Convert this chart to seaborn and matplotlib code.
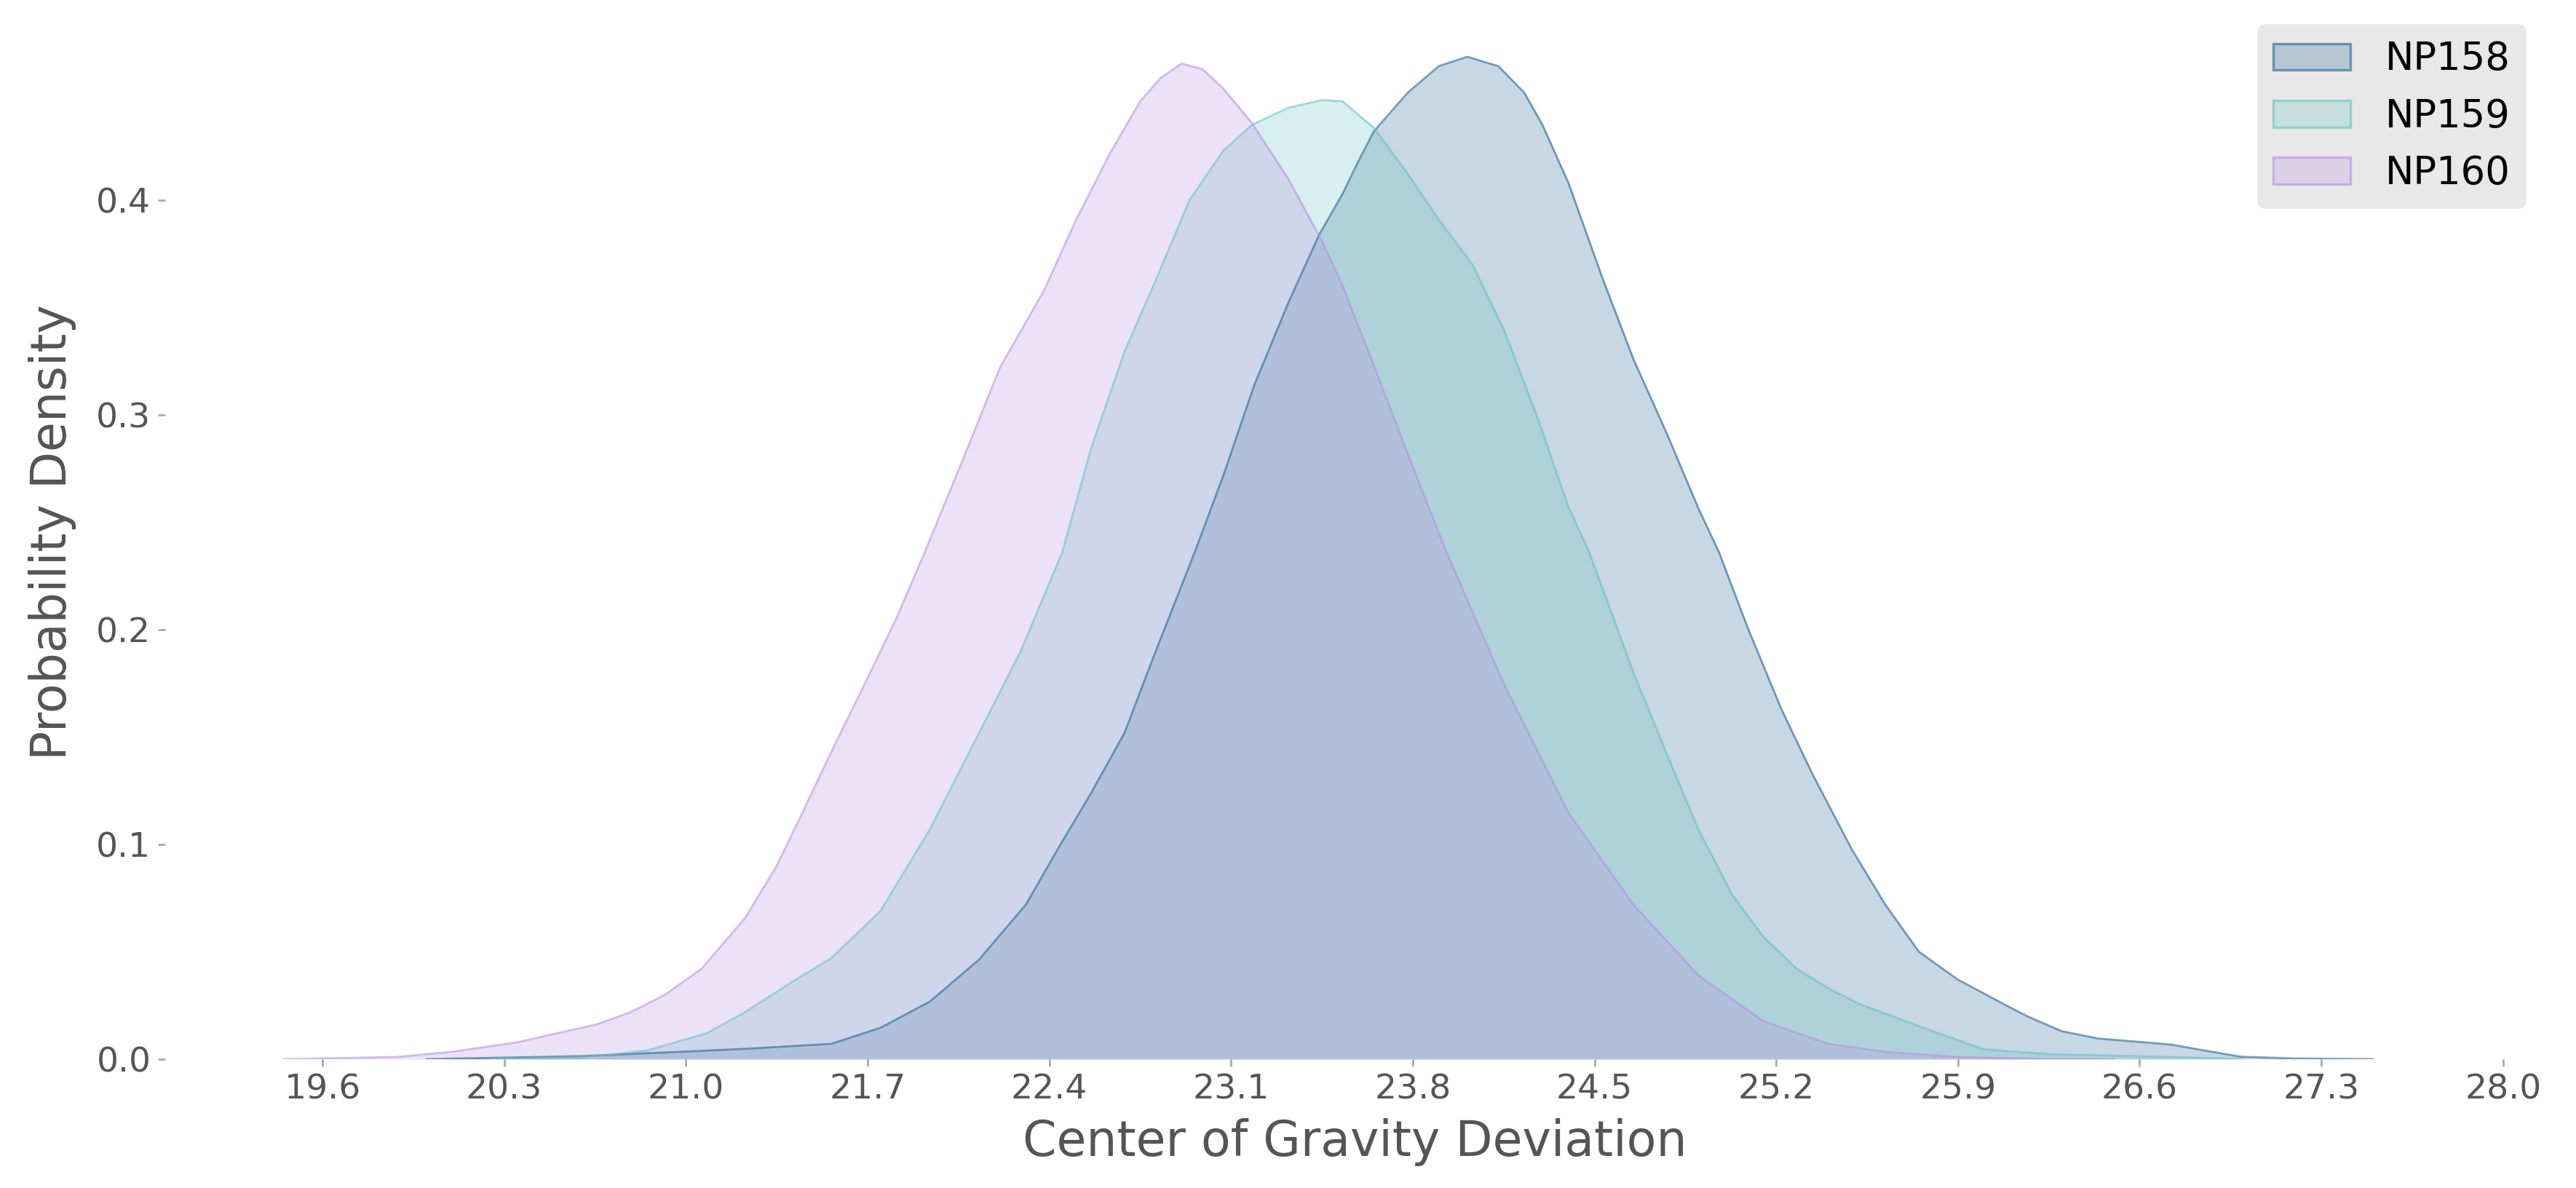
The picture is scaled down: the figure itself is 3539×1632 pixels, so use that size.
import matplotlib
matplotlib.use("Agg")
import matplotlib.pyplot as plt
from matplotlib.patches import Patch
from matplotlib.colors import to_rgba
import numpy as np
import pandas as pd
import seaborn as sns

# Density curves (x = deviation, y = density)
np158_x = [20.0, 20.6, 20.98, 21.23, 21.56, 21.75, 21.94, 22.13, 22.31, 22.44,
           22.56, 22.69, 22.81, 22.96, 23.07, 23.19, 23.32, 23.44, 23.53, 23.59,
           23.65, 23.78, 23.90, 24.01, 24.13, 24.23, 24.30, 24.40, 24.53, 24.65,
           24.78, 24.90, 24.98, 25.09, 25.22, 25.34, 25.49, 25.62, 25.75, 25.90,
           26.08, 26.17, 26.30, 26.44, 26.72, 26.85, 26.99, 27.2, 27.5]
np158_y = [0.0, 0.0014, 0.0034, 0.0048, 0.0071, 0.0146, 0.0268, 0.0464, 0.072, 0.0993,
           0.1237, 0.152, 0.190, 0.236, 0.2716, 0.314, 0.352, 0.384, 0.403, 0.418,
           0.432, 0.450, 0.4624, 0.4668, 0.4624, 0.450, 0.435, 0.408, 0.364, 0.326,
           0.291, 0.2566, 0.236, 0.201, 0.163, 0.1327, 0.098, 0.072, 0.050, 0.037,
           0.0254, 0.0198, 0.013, 0.0096, 0.0068, 0.004, 0.0011, 0.0003, 0.0]

np159_x = [20.25, 20.6, 20.85, 21.08, 21.23, 21.41, 21.56, 21.75, 21.94, 22.13,
           22.29, 22.45, 22.56, 22.69, 22.81, 22.94, 23.07, 23.18, 23.32, 23.45,
           23.53, 23.65, 23.78, 23.90, 24.03, 24.15, 24.28, 24.40, 24.48, 24.65,
           24.78, 24.90, 25.03, 25.15, 25.28, 25.40, 25.52, 25.75, 26.0, 26.25,
           26.72, 27.0]
np159_y = [0.0, 0.0008, 0.004, 0.012, 0.022, 0.036, 0.047, 0.069, 0.107, 0.152,
           0.190, 0.236, 0.284, 0.3295, 0.3627, 0.400, 0.423, 0.435, 0.443, 0.4466,
           0.446, 0.4337, 0.4124, 0.391, 0.370, 0.340, 0.299, 0.257, 0.236, 0.180,
           0.1417, 0.107, 0.0767, 0.057, 0.042, 0.033, 0.0257, 0.0153, 0.0045, 0.0023,
           0.001, 0.0]

np160_x = [19.45, 19.6, 19.89, 20.10, 20.35, 20.66, 20.79, 20.92, 21.06, 21.23,
           21.35, 21.45, 21.56, 21.69, 21.81, 21.92, 22.09, 22.21, 22.38, 22.50,
           22.63, 22.75, 22.83, 22.91, 22.99, 23.07, 23.18, 23.32, 23.45, 23.53,
           23.65, 23.78, 23.93, 24.15, 24.40, 24.65, 24.90, 25.15, 25.40, 25.62,
           25.89, 26.2, 26.5]
np160_y = [0.0, 0.0003, 0.001, 0.0034, 0.0078, 0.0163, 0.022, 0.030, 0.042, 0.066,
           0.090, 0.115, 0.143, 0.175, 0.205, 0.236, 0.286, 0.322, 0.358, 0.390,
           0.421, 0.446, 0.457, 0.4636, 0.461, 0.452, 0.436, 0.410, 0.381, 0.360,
           0.323, 0.282, 0.236, 0.175, 0.1146, 0.072, 0.039, 0.0177, 0.0071, 0.0034,
           0.001, 0.0002, 0.0]

labels = ["NP158", "NP159", "NP160"]
colors = ["#236393", "#66c2c2", "#b78fe3"]
xticks = [19.6, 20.3, 21.0, 21.7, 22.4, 23.1, 23.8, 24.5, 25.2, 25.9, 26.6, 27.3, 28.0]
yticks = [0.0, 0.1, 0.2, 0.3, 0.4]

curves = {
    "NP158": (np158_x, np158_y),
    "NP159": (np159_x, np159_y),
    "NP160": (np160_x, np160_y),
}

sns.set_style("white")
plt.rcParams["font.family"] = ["DejaVu Sans"]

fig = plt.figure(figsize=(17.695, 8.16), dpi=200)
ax = fig.add_axes([0.0641, 0.1085, 0.9237, 0.8866])

handles = []
for name, color in zip(labels, colors):
    xs, ys = curves[name]
    df = pd.DataFrame({"x": xs, "density": ys})
    ax.fill_between(df["x"], df["density"], 0, facecolor=to_rgba(color, 0.25), linewidth=0)
    sns.lineplot(data=df, x="x", y="density", color=color, alpha=0.6, linewidth=1.0, ax=ax)
    handles.append(Patch(facecolor=to_rgba(color, 0.25), edgecolor=to_rgba(color, 0.6),
                         linewidth=1.2, label=name))

ax.set_xlim(18.994, 28.16)
ax.set_ylim(0, 0.4905)
ax.set_xticks(xticks)
ax.set_xticklabels([f"{t:.1f}" for t in xticks])
ax.set_yticks(yticks)
ax.set_yticklabels([f"{t:.1f}" for t in yticks])

sns.despine(ax=ax, left=True, bottom=True)
ax.tick_params(axis="both", which="major", length=3.5, width=1, color="#aaaaaa",
               labelcolor="#555555", labelsize=17, left=True, bottom=True)

ax.set_xlabel("Center of Gravity Deviation", fontsize=24, color="#555555", labelpad=6)
ax.set_ylabel("Probability Density", fontsize=24, color="#555555", labelpad=10)

leg = ax.legend(handles=handles, loc="upper right", fontsize=19, frameon=True,
                facecolor="#e8e8e8", edgecolor="#e8e8e8", framealpha=1,
                handletextpad=0.9)
for t in leg.get_texts():
    t.set_color("black")

fig.savefig("out.png", dpi=200)
